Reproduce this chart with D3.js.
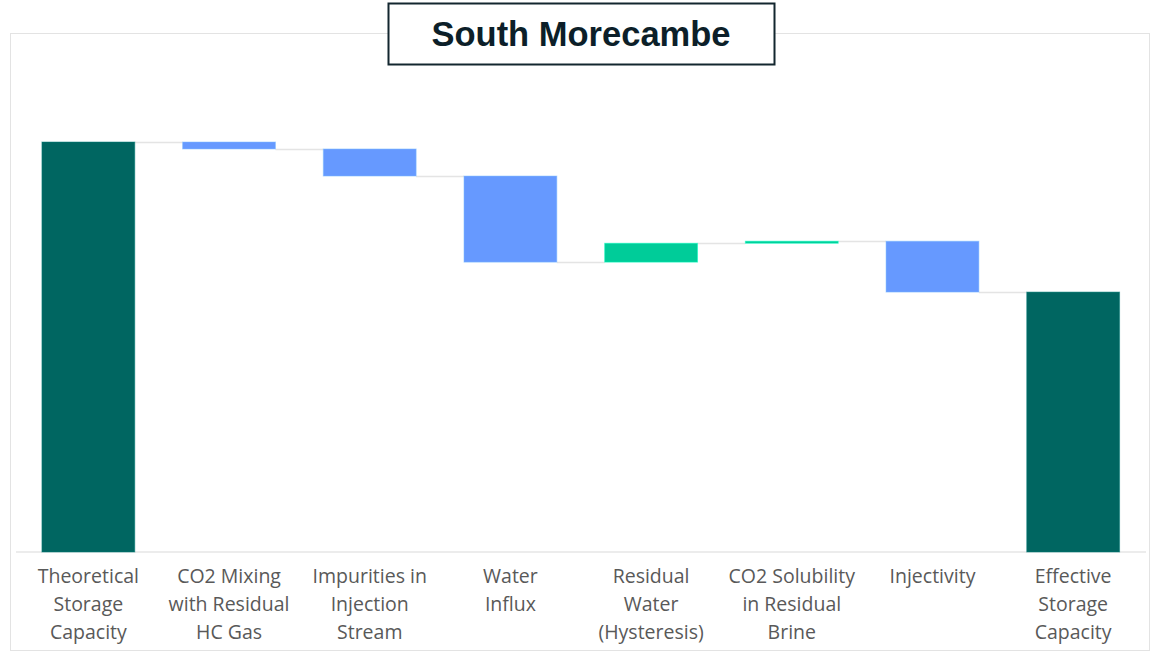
<!DOCTYPE html>
<html>
<head>
<meta charset="utf-8">
<script src="https://cdn.jsdelivr.net/npm/d3@7"></script>
<style>
  body { margin: 0; background: #fff; }
  svg { display: block; }
</style>
</head>
<body>
<svg id="chart" width="1151" height="653"></svg>
<script>
// categories, split into the lines shown under each bar
const categories = [
  ["Theoretical", "Storage", "Capacity"],
  ["CO2 Mixing", "with Residual", "HC Gas"],
  ["Impurities in", "Injection", "Stream"],
  ["Water", "Influx"],
  ["Residual", "Water", "(Hysteresis)"],
  ["CO2 Solubility", "in Residual", "Brine"],
  ["Injectivity"],
  ["Effective", "Storage", "Capacity"],
];
// step values (% of theoretical capacity)
const steps = [100, -1.7, -6.6, -21.0, 4.6, 0.5, -12.4, 63.4];
const kinds = ["total", "step", "step", "step", "step", "step", "step", "total"];

const colors = { total: "#006661", down: "#6699ff", up: "#00cc99" };

const svg = d3.select("#chart");

// outer frame
svg.append("rect")
  .attr("x", 10.5).attr("y", 33.5)
  .attr("width", 1139).attr("height", 617)
  .attr("fill", "none")
  .attr("stroke", "#e3e3e3")
  .attr("stroke-width", 1);

const x = d3.scaleBand()
  .domain(d3.range(categories.length))
  .range([18, 1143.5])
  .paddingInner(0.34)
  .paddingOuter(0.17);

const y = d3.scaleLinear().domain([0, 120]).range([552, 60]);

// build waterfall rows
let running = 0;
const rows = steps.map((v, i) => {
  let y0, y1, color;
  if (kinds[i] === "total") {
    y0 = 0; y1 = v; running = v; color = colors.total;
  } else {
    y0 = running; y1 = running + v; running = y1;
    color = v < 0 ? colors.down : colors.up;
  }
  return { i, y0, y1, end: running, color };
});

// baseline
svg.append("line")
  .attr("x1", 16).attr("x2", 1146)
  .attr("y1", y(0)).attr("y2", y(0))
  .attr("stroke", "#e6e6e6")
  .attr("stroke-width", 1.5);

// connectors
const conn = svg.append("g");
rows.slice(0, -1).forEach(r => {
  conn.append("line")
    .attr("x1", x(r.i) + x.bandwidth())
    .attr("x2", x(r.i + 1))
    .attr("y1", Math.round(y(r.end)) + 0.5)
    .attr("y2", Math.round(y(r.end)) + 0.5)
    .attr("stroke", "#e4e4e4")
    .attr("stroke-width", 1.5);
});

// bars
svg.append("g").selectAll("rect")
  .data(rows)
  .join("rect")
  .attr("x", d => x(d.i))
  .attr("y", d => y(Math.max(d.y0, d.y1)))
  .attr("width", x.bandwidth())
  .attr("height", d => Math.abs(y(d.y0) - y(d.y1)))
  .attr("fill", d => d.color)
  .attr("stroke", d => d3.color(d.color).brighter(0.6))
  .attr("stroke-opacity", 0.5)
  .attr("stroke-width", 1);

// category labels
const labels = svg.append("g")
  .style("font-family", "'Open Sans', sans-serif")
  .style("font-size", "19.5px")
  .attr("fill", "#595959")
  .attr("text-anchor", "middle");

categories.forEach((lines, i) => {
  const t = labels.append("text")
    .attr("x", x(i) + x.bandwidth() / 2)
    .attr("y", 583);
  lines.forEach((ln, j) => {
    t.append("tspan")
      .attr("x", x(i) + x.bandwidth() / 2)
      .attr("dy", j === 0 ? 0 : 28)
      .text(ln);
  });
});

// title box
svg.append("rect")
  .attr("x", 388.5).attr("y", 3.5)
  .attr("width", 386).attr("height", 61)
  .attr("fill", "#fff")
  .attr("stroke", "#13262f")
  .attr("stroke-width", 2);

svg.append("text")
  .attr("x", 581).attr("y", 46)
  .attr("text-anchor", "middle")
  .style("font-family", "'Liberation Sans', Arial, sans-serif")
  .style("font-weight", "bold")
  .style("font-size", "34.5px")
  .attr("fill", "#0c1f29")
  .text("South Morecambe");
</script>
</body>
</html>
